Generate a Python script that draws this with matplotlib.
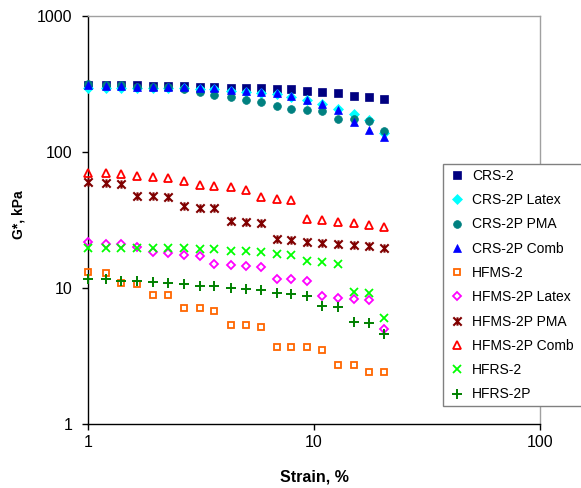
import matplotlib

matplotlib.use("Agg")
import matplotlib.pyplot as plt  # noqa: E402
from matplotlib.path import Path  # noqa: E402

plt.rcParams["font.family"] = ["Liberation Sans", "DejaVu Sans"]

# strain, %
strain = [1.0, 1.2, 1.4, 1.64, 1.93, 2.26, 2.65, 3.13, 3.62, 4.29,
          5.0, 5.83, 6.84, 7.94, 9.31, 10.9, 12.8, 15.1, 17.6, 20.5]

# G*, kPa
crs2 = [309, 309, 309, 308, 307, 304, 302, 301, 300, 296,
        296, 293, 288, 288, 282, 276, 270, 259, 254, 244]
crs2p_latex = [295, 295, 295, 294, 294, 294, 294, 289, 287, 282,
               277, 272, 268, 254, 240, 224, 208, 189, 171, 138]
crs2p_pma = [315, 309, 309, 301, 301, 301, 288, 273, 263, 253,
             241, 232, 218, 208, 203, 199, 175, 173, 168, 142]
crs2p_comb = [309, 306, 306, 301, 301, 301, 301, 296, 293, 284,
              279, 276, 269, 258, 239, 225, 202, 166, 145, 128]
hfms2 = [13.1, 12.9, 10.8, 10.6, 8.9, 8.9, 7.1, 7.1, 6.8, 5.3,
         5.3, 5.2, 3.7, 3.7, 3.7, 3.5, 2.7, 2.7, 2.4, 2.4]
hfms2p_latex = [21.9, 21.0, 20.9, 20.0, 18.4, 18.2, 17.6, 17.1, 15.1, 14.7,
                14.5, 14.2, 11.7, 11.7, 11.2, 8.7, 8.5, 8.3, 8.1, 5.0]
hfms2p_pma = [60.2, 59.2, 58.2, 47.5, 47.5, 46.7, 40.1, 38.7, 38.4, 31.1,
              30.6, 29.9, 22.8, 22.4, 21.9, 21.4, 21.0, 20.6, 20.3, 19.7]
hfms2p_comb = [70.1, 69.7, 68.6, 66.6, 64.8, 63.7, 60.9, 57.2, 56.1, 55.0,
               52.7, 46.2, 45.1, 44.2, 31.9, 31.3, 30.7, 30.1, 28.9, 28.1]
hfrs2 = [19.8, 19.8, 19.8, 19.8, 19.8, 19.5, 19.5, 19.2, 19.2, 18.7,
         18.7, 18.3, 17.8, 17.5, 15.7, 15.4, 14.9, 9.4, 9.1, 6.0]
hfrs2p = [11.7, 11.6, 11.3, 11.2, 11.1, 10.9, 10.7, 10.4, 10.3, 9.95,
          9.8, 9.6, 9.2, 9.0, 8.65, 7.4, 7.2, 5.6, 5.5, 4.6]

# Excel-style star: an x with a vertical bar through it
STAR = Path(
    [(0, -1), (0, 1), (-1, -1), (1, 1), (-1, 1), (1, -1)],
    [Path.MOVETO, Path.LINETO, Path.MOVETO, Path.LINETO, Path.MOVETO, Path.LINETO],
)

series = [
    ("CRS-2", crs2, dict(marker="s", ms=5.3, mfc="#000080", mec="#000080", mew=0.5)),
    ("CRS-2P Latex", crs2p_latex, dict(marker="D", ms=4.6, mfc="#00FFFF", mec="#00FFFF", mew=0.5)),
    ("CRS-2P PMA", crs2p_pma, dict(marker="o", ms=5.6, mfc="#008080", mec="#008080", mew=0.5)),
    ("CRS-2P Comb", crs2p_comb, dict(marker="^", ms=6.2, mfc="#0000FF", mec="#0000FF", mew=0.5)),
    ("HFMS-2", hfms2, dict(marker="s", ms=5.0, mfc="none", mec="#FF6600", mew=1.3)),
    ("HFMS-2P Latex", hfms2p_latex, dict(marker="D", ms=4.4, mfc="none", mec="#FF00FF", mew=1.3)),
    ("HFMS-2P PMA", hfms2p_pma, dict(marker=STAR, ms=6.0, mfc="none", mec="#800000", mew=1.5)),
    ("HFMS-2P Comb", hfms2p_comb, dict(marker="^", ms=6.2, mfc="none", mec="#FF0000", mew=1.3)),
    ("HFRS-2", hfrs2, dict(marker="x", ms=6.0, mfc="none", mec="#00FF00", mew=1.3)),
    ("HFRS-2P", hfrs2p, dict(marker="+", ms=7.0, mfc="none", mec="#008000", mew=1.4)),
]

fig = plt.figure(figsize=(5.81, 4.88), dpi=100, facecolor="white")
ax = fig.add_axes([0.1515, 0.1311, 0.7779, 0.8367])

for i, (name, vals, style) in enumerate(series):
    ax.plot(strain, vals, linestyle="none", label=name, zorder=3 + i, clip_on=False, **style)

ax.set_xscale("log")
ax.set_yscale("log")
ax.set_xlim(1, 100)
ax.set_ylim(1, 1000)
ax.set_xticks([1, 10, 100])
ax.set_xticklabels(["1", "10", "100"])
ax.set_yticks([1, 10, 100, 1000])
ax.set_yticklabels(["1", "10", "100", "1000"])
ax.minorticks_off()

for side in ("left", "bottom"):
    ax.spines[side].set_color("black")
    ax.spines[side].set_linewidth(1.0)
for side in ("top", "right"):
    ax.spines[side].set_color("#A0A0A0")
    ax.spines[side].set_linewidth(1.0)

ax.tick_params(axis="both", direction="out", length=4, width=1.0, colors="black", labelsize=11.5)
ax.tick_params(axis="y", pad=7)
ax.tick_params(axis="x", pad=4)

ax.set_xlabel("Strain, %", fontsize=11.5, fontweight="bold", labelpad=14)
ax.set_ylabel("G*, kPa", fontsize=10, fontweight="bold")
ax.yaxis.set_label_coords(-0.138, 0.512)

# legend box runs past the right edge of the figure, as in the source
leg = ax.legend(
    loc="upper left",
    bbox_to_anchor=(443 / 581, 0, 160 / 581, 1 - 164 / 488),
    bbox_transform=fig.transFigure,
    mode="expand",
    frameon=True,
    fancybox=False,
    shadow=False,
    framealpha=1,
    edgecolor="#808080",
    fontsize=10,
    labelspacing=0.74,
    handlelength=1.3,
    handletextpad=0.45,
    borderpad=0.35,
    borderaxespad=0,
    numpoints=1,
)
leg.get_frame().set_linewidth(1.0)
leg.set_zorder(20)

fig.savefig("out.png", dpi=100, facecolor="white")
